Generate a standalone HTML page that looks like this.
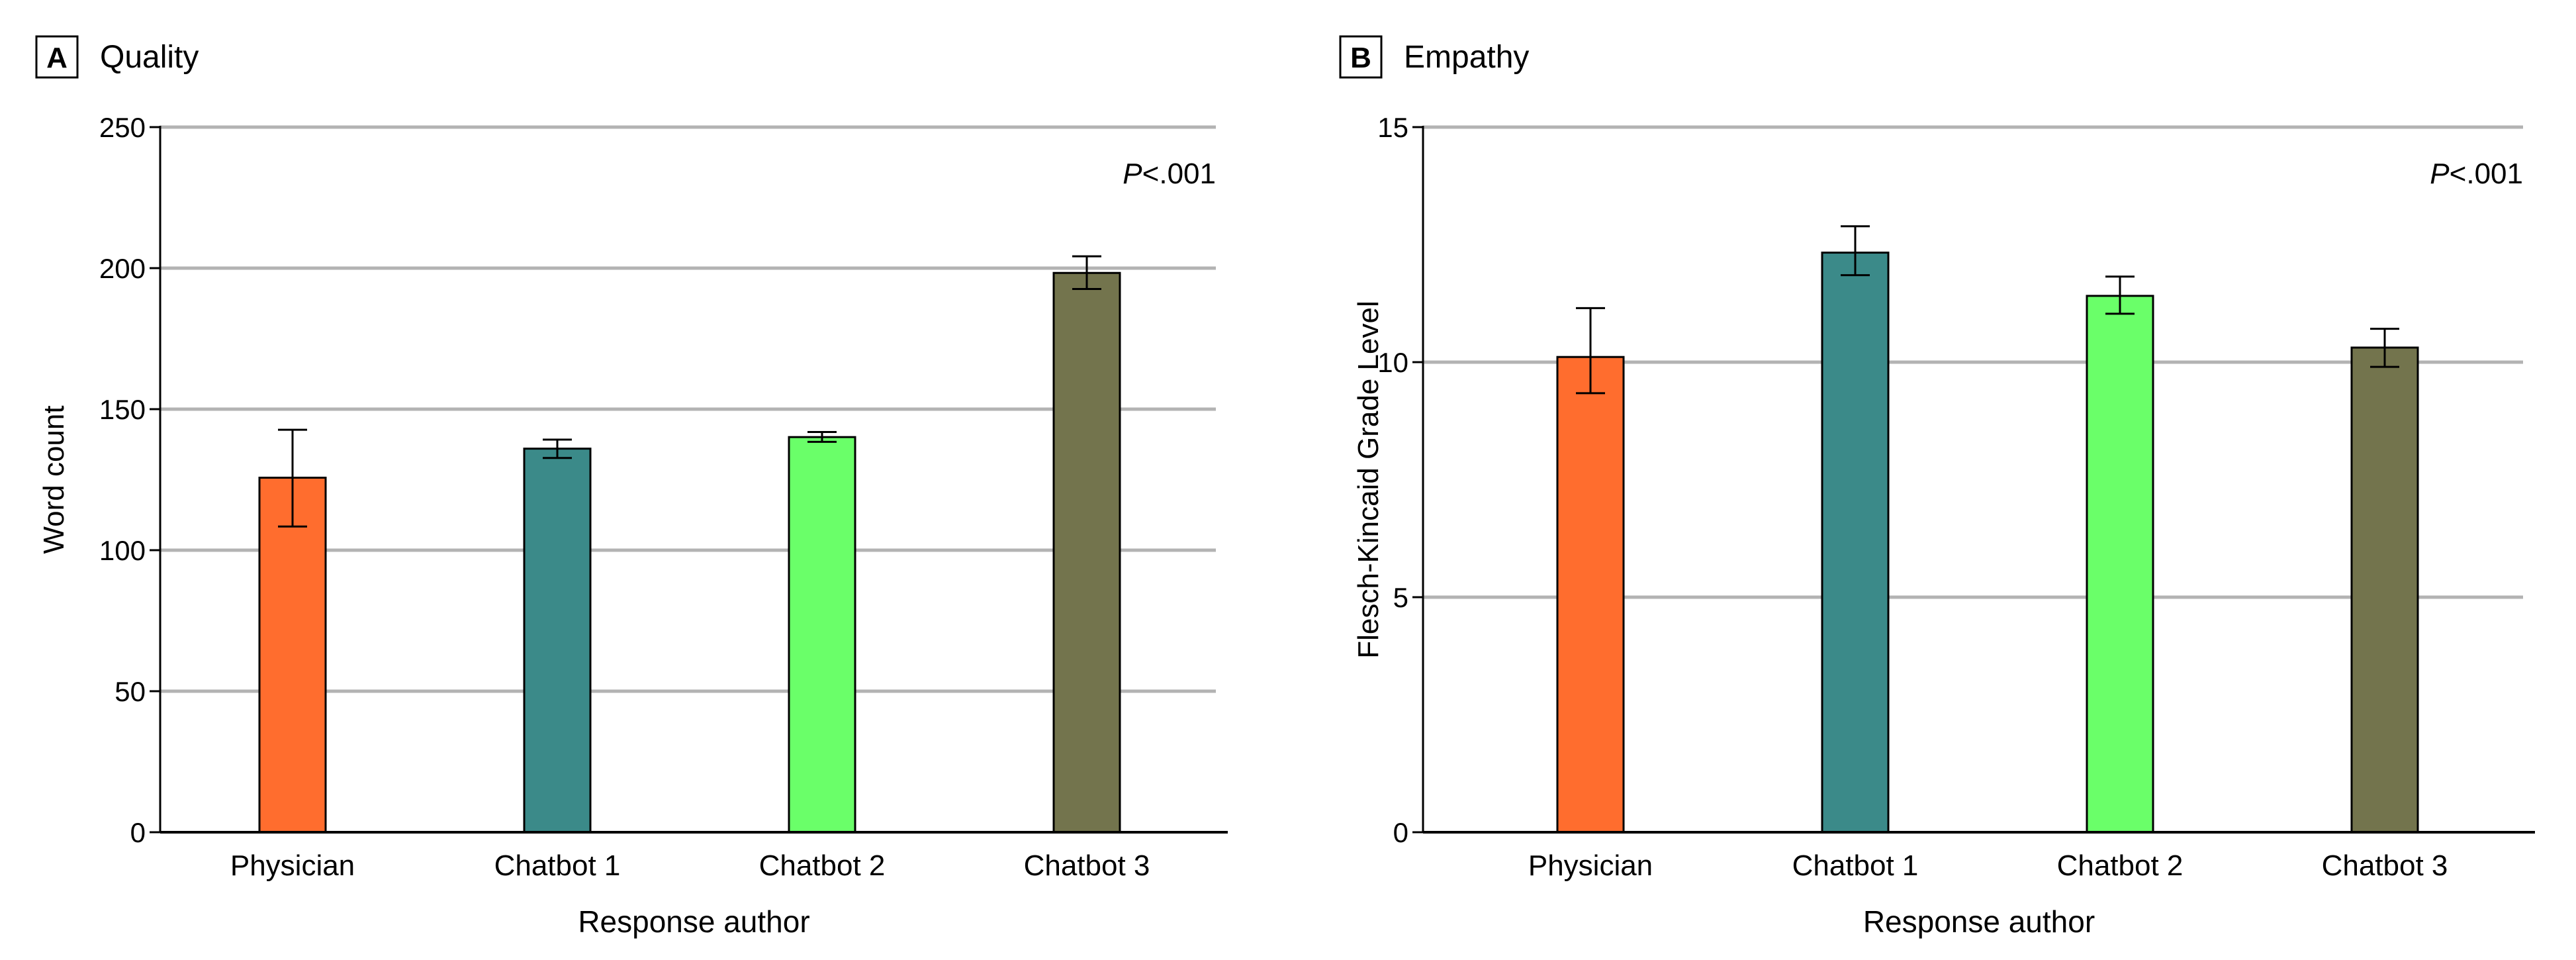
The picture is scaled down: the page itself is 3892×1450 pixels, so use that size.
<!DOCTYPE html>
<html><head><meta charset="utf-8"><style>
html,body{margin:0;padding:0;background:#fff;}
svg{display:block;font-family:"Liberation Sans",sans-serif;}
</style></head><body>
<svg id="chart" width="3892" height="1450" viewBox="0 0 3892 1450" xmlns="http://www.w3.org/2000/svg"></svg>
<script>
const categories = ["Physician", "Chatbot 1", "Chatbot 2", "Chatbot 3"];
const colors = ["#ff6d2e", "#3b8a89", "#6aff69", "#73744d"];
const qualityValues = [125.7, 136, 140.1, 198.3];
const qualityLow = [108.4, 132.7, 138.4, 192.6];
const qualityHigh = [142.7, 139.2, 141.9, 204.2];
const qualityTicks = [0, 50, 100, 150, 200, 250];
const empathyValues = [10.11, 12.33, 11.41, 10.31];
const empathyLow = [9.34, 11.85, 11.03, 9.90];
const empathyHigh = [11.15, 12.89, 11.82, 10.71];
const empathyTicks = [0, 5, 10, 15];

const NS = "http://www.w3.org/2000/svg";
const svg = document.getElementById("chart");
function mk(tag, attrs, parent) {
  const e = document.createElementNS(NS, tag);
  for (const k in attrs) e.setAttribute(k, attrs[k]);
  (parent || svg).appendChild(e);
  return e;
}
function txt(str, attrs, parent) {
  const e = mk("text", attrs, parent);
  e.textContent = str;
  return e;
}

function panel(cfg) {
  const g = mk("g", {});
  
  
  const x0 = cfg.axisX, gridEnd = cfg.gridEnd, axisEnd = cfg.axisEnd;
  const yTop = 192, yBot = 1257;
  const maxV = cfg.ticks[cfg.ticks.length - 1];
  const yS = v => yBot - (v / maxV) * (yBot - yTop);
  const xS = i => x0 + cfg.firstOffset + cfg.step * i;

  const box = mk("rect", {x: cfg.boxX, y: 55, width: 62, height: 62, fill: "#fff", stroke: "#000", "stroke-width": 3}, g);
  
  
  const lt = txt(cfg.letter, {x: cfg.boxX + 31, y: 102, "text-anchor": "middle", "font-size": 44, "font-weight": "bold"}, g);
  
  
  const tt = txt(cfg.title, {x: cfg.boxX + 96, y: 102, "font-size": 48}, g);
  
  

  cfg.ticks.forEach(t => {
    const y = yS(t);
    if (t > 0) {
      const gl = mk("line", {x1: x0, x2: gridEnd, y1: y, y2: y, stroke: "#b3b3b3", "stroke-width": 5}, g);
      
      
    }
    mk("line", {x1: x0 - 16, x2: x0, y1: y, y2: y, stroke: "#000", "stroke-width": 3}, g);
    const tl = txt(String(t), {x: x0 - 22, y: y + 15, "text-anchor": "end", "font-size": 42}, g);
    
    
  });

  const bw = 100;
  categories.forEach((c, i) => {
    const cx = xS(i), top = yS(cfg.values[i]);
    const b = mk("rect", {x: cx - bw / 2, y: top, width: bw, height: yBot - top, fill: colors[i], stroke: "#000", "stroke-width": 3}, g);
    
    
    const eg = mk("g", {stroke: "#000", "stroke-width": 3}, g);
    
    
    const yl = yS(cfg.low[i]), yh = yS(cfg.high[i]);
    mk("line", {x1: cx, x2: cx, y1: yl, y2: yh}, eg);
    mk("line", {x1: cx - 22, x2: cx + 22, y1: yl, y2: yl}, eg);
    mk("line", {x1: cx - 22, x2: cx + 22, y1: yh, y2: yh}, eg);
    const xl = txt(c, {x: cx, y: 1322, "text-anchor": "middle", "font-size": 44}, g);
    
    
  });

  mk("line", {x1: x0, x2: x0, y1: yTop - 2, y2: yBot, stroke: "#000", "stroke-width": 3}, g);
  mk("line", {x1: x0, x2: axisEnd, y1: yBot, y2: yBot, stroke: "#000", "stroke-width": 4}, g);

  const xt = txt("Response author", {x: (x0 + axisEnd) / 2, y: 1408, "text-anchor": "middle", "font-size": 46}, g);
  
  
  const yt = txt(cfg.yTitle, {x: 0, y: 0, "text-anchor": "middle", "font-size": 44, transform: "translate(" + cfg.yTitleX + "," + ((yTop + yBot) / 2) + ") rotate(-90)"}, g);
  
  
  const p = txt("", {x: gridEnd, y: 277, "text-anchor": "end", "font-size": 44}, g);
  
  
  const ts = mk("tspan", {"font-style": "italic"}, p); ts.textContent = "P";
  const ts2 = mk("tspan", {}, p); ts2.textContent = "<.001";
}

panel({name: "quality-panel", letter: "A", title: "Quality", boxX: 55, axisX: 242, gridEnd: 1837, axisEnd: 1855,
  firstOffset: 200, step: 400,
  ticks: qualityTicks, values: qualityValues, low: qualityLow, high: qualityHigh, yTitle: "Word count", yTitleX: 96});
panel({name: "empathy-panel", letter: "B", title: "Empathy", boxX: 2025, axisX: 2150, gridEnd: 3812, axisEnd: 3830,
  firstOffset: 253, step: 400,
  ticks: empathyTicks, values: empathyValues, low: empathyLow, high: empathyHigh, yTitle: "Flesch-Kincaid Grade Level", yTitleX: 2082});
</script>
</body></html>
